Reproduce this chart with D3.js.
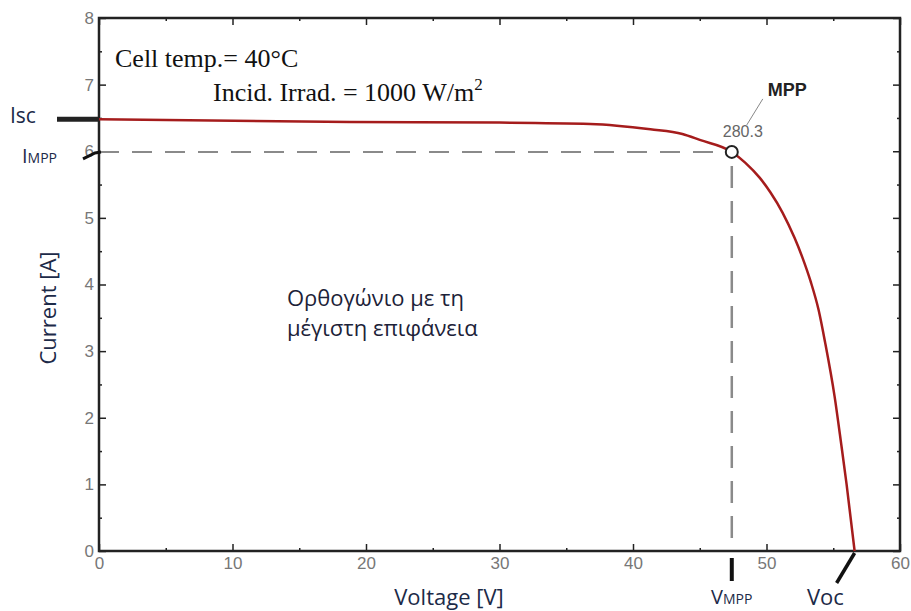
<!DOCTYPE html>
<html>
<head>
<meta charset="utf-8">
<script src="https://cdn.jsdelivr.net/npm/d3@7"></script>
<style>
  body { margin: 0; background: #fff; }
  svg { display: block; }
</style>
</head>
<body>
<svg width="911" height="611"></svg>
<script>
// I-V curve
var voltage = [0, 18.8, 30, 36.8, 41.3, 43.7, 45, 47.4, 48.4, 49.5, 50.3, 51.2, 52.1, 52.7, 53.3, 53.9, 54.4, 55.1, 55.6, 56, 56.6];
var current = [6.48, 6.44, 6.43, 6.41, 6.33, 6.26, 6.17, 5.99, 5.83, 5.60, 5.38, 5.08, 4.70, 4.40, 4.05, 3.62, 3.12, 2.32, 1.60, 1.00, 0];

var xTicks = [0, 10, 20, 30, 40, 50, 60];
var xMinor = [5, 15, 25, 35, 45, 55];
var yTicks = [0, 1, 2, 3, 4, 5, 6, 7, 8];
var yMinor = [0.5, 1.5, 2.5, 3.5, 4.5, 5.5, 6.5, 7.5];

var isc = 6.48;
var vmpp = 47.4, impp = 5.99;
var voc = 56.6;
var mppLabel = "280.3";

var svg = d3.select("svg");
var mLeft = 99, mRight = 900, mTop = 18, mBottom = 551;

var x = d3.scaleLinear().domain([0, 60]).range([mLeft, mRight]);
var y = d3.scaleLinear().domain([0, 8]).range([mBottom, mTop]);

// minor ticks on all four sides
function minorAxis(axis, pos, vals) {
  var g = svg.append("g").attr("transform", pos)
    .call(axis.tickValues(vals).tickSize(-3).tickSizeOuter(0).tickFormat(""));
  g.select(".domain").remove();
  g.selectAll("line").attr("stroke", "#222").attr("stroke-width", 1.5);
}
minorAxis(d3.axisBottom(x), "translate(0," + mBottom + ")", xMinor);
minorAxis(d3.axisTop(x), "translate(0," + mTop + ")", xMinor);
minorAxis(d3.axisLeft(y), "translate(" + mLeft + ",0)", yMinor);
minorAxis(d3.axisRight(y), "translate(" + mRight + ",0)", yMinor);

// major ticks
var gx = svg.append("g").attr("transform", "translate(0," + mBottom + ")")
  .call(d3.axisBottom(x).tickValues(xTicks).tickSize(-7).tickSizeOuter(0).tickPadding(9));
var gxt = svg.append("g").attr("transform", "translate(0," + mTop + ")")
  .call(d3.axisTop(x).tickValues(xTicks).tickSize(-7).tickSizeOuter(0).tickFormat(""));
var gy = svg.append("g").attr("transform", "translate(" + mLeft + ",0)")
  .call(d3.axisLeft(y).tickValues(yTicks).tickSize(-7).tickSizeOuter(0).tickPadding(5));
var gyr = svg.append("g").attr("transform", "translate(" + mRight + ",0)")
  .call(d3.axisRight(y).tickValues(yTicks).tickSize(-7).tickSizeOuter(0).tickFormat(""));
[gx, gxt, gy, gyr].forEach(function(g) {
  g.select(".domain").remove();
  g.selectAll(".tick line").attr("stroke", "#222").attr("stroke-width", 1.5);
  g.selectAll(".tick text")
      .attr("font-family", "Liberation Sans Narrow, Liberation Sans, Arial, sans-serif")
      .attr("font-size", 17).attr("fill", "#777");
});
gx.selectAll(".tick text").attr("dy", "0.55em");

// frame
svg.append("rect")
    .attr("x", mLeft).attr("y", mTop)
    .attr("width", mRight - mLeft).attr("height", mBottom - mTop)
    .attr("fill", "none").attr("stroke", "#222").attr("stroke-width", 2.5);

// dashed MPP guides
svg.append("line")
    .attr("x1", x(0)).attr("x2", x(vmpp) - 6)
    .attr("y1", y(impp)).attr("y2", y(impp))
    .attr("stroke", "#8a8a8a").attr("stroke-width", 2).attr("stroke-dasharray", "20,13");
svg.append("line")
    .attr("x1", x(vmpp)).attr("x2", x(vmpp))
    .attr("y1", y(impp) + 14).attr("y2", y(0))
    .attr("stroke", "#8a8a8a").attr("stroke-width", 2.5).attr("stroke-dasharray", "22,13");

// I-V curve
var pts = voltage.map(function(v, i) { return [v, current[i]]; });
var line = d3.line()
    .x(function(d) { return x(d[0]); })
    .y(function(d) { return y(d[1]); })
    .curve(d3.curveMonotoneX);
svg.append("path")
    .datum(pts)
    .attr("d", line)
    .attr("fill", "none")
    .attr("stroke", "#a51c1c")
    .attr("stroke-width", 2.5);

// MPP marker
svg.append("circle")
    .attr("cx", x(vmpp)).attr("cy", y(impp)).attr("r", 6)
    .attr("fill", "#fff").attr("stroke", "#222").attr("stroke-width", 2);
svg.append("line")
    .attr("x1", x(vmpp) + 15).attr("y1", y(impp) - 27)
    .attr("x2", x(vmpp) + 31).attr("y2", y(impp) - 53)
    .attr("stroke", "#888").attr("stroke-width", 1);
svg.append("text")
    .attr("x", x(vmpp) - 9).attr("y", y(impp) - 15)
    .attr("font-family", "Liberation Sans, Arial, sans-serif")
    .attr("font-size", 16).attr("fill", "#666")
    .text(mppLabel);
svg.append("text")
    .attr("x", x(vmpp) + 36).attr("y", y(impp) - 56)
    .attr("font-family", "Liberation Sans, Arial, sans-serif")
    .attr("font-size", 18).attr("font-weight", "bold").attr("fill", "#222")
    .text("MPP");

// conditions
var serif = "Liberation Serif, Times New Roman, serif";
svg.append("text")
    .attr("x", 115).attr("y", 67)
    .attr("font-family", serif).attr("font-size", 26).attr("fill", "#111")
    .text("Cell temp.= 40°C");
var irr = svg.append("text")
    .attr("x", 213).attr("y", 101)
    .attr("font-family", serif).attr("font-size", 26).attr("fill", "#111")
    .text("Incid. Irrad. = 1000 W/m");
irr.append("tspan").attr("dy", -11).attr("font-size", 17).text("2");

// rectangle note
var sans = "Open Sans, Noto Sans, sans-serif";
svg.append("text")
    .attr("x", 287).attr("y", 306)
    .attr("font-family", sans).attr("font-size", 22).attr("fill", "#1c2238")
    .text("Ορθογώνιο με τη");
svg.append("text")
    .attr("x", 287).attr("y", 336)
    .attr("font-family", sans).attr("font-size", 22).attr("fill", "#1c2238")
    .text("μέγιστη επιφάνεια");

// axis titles
svg.append("text")
    .attr("x", 449).attr("y", 605)
    .attr("text-anchor", "middle")
    .attr("font-family", sans).attr("font-size", 22).attr("fill", "#1c2a48")
    .text("Voltage [V]");
svg.append("text")
    .attr("transform", "translate(56," + 308 + ") rotate(-90)")
    .attr("text-anchor", "middle")
    .attr("font-family", sans).attr("font-size", 22).attr("fill", "#1c2a48")
    .text("Current [A]");

// Isc, IMPP, VMPP, Voc markers
svg.append("line")
    .attr("x1", 57).attr("x2", mLeft).attr("y1", y(isc)).attr("y2", y(isc))
    .attr("stroke", "#222").attr("stroke-width", 5);
svg.append("text")
    .attr("x", 10).attr("y", y(isc) + 4)
    .attr("font-family", sans).attr("font-size", 21).attr("fill", "#1c2a48")
    .text("Isc");

svg.append("path")
    .attr("d", "M" + (mLeft - 16) + "," + (y(impp) + 7) + " L" + (mLeft - 4) + "," + (y(impp) + 1) + " L" + (mLeft + 2) + "," + y(impp))
    .attr("fill", "none").attr("stroke", "#111").attr("stroke-width", 3);
var imppT = svg.append("text")
    .attr("x", 22).attr("y", y(impp) + 11)
    .attr("font-family", sans).attr("font-size", 20).attr("fill", "#1c2a48");
imppT.append("tspan").text("I");
imppT.append("tspan").attr("font-size", 14).text("MPP");

svg.append("line")
    .attr("x1", x(vmpp)).attr("x2", x(vmpp)).attr("y1", mBottom + 7).attr("y2", mBottom + 30)
    .attr("stroke", "#111").attr("stroke-width", 4);
var vmppT = svg.append("text")
    .attr("x", 711).attr("y", 604)
    .attr("font-family", sans).attr("font-size", 20).attr("fill", "#1c2a48");
vmppT.append("tspan").text("V");
vmppT.append("tspan").attr("font-size", 14).text("MPP");

svg.append("line")
    .attr("x1", x(voc)).attr("y1", mBottom + 2)
    .attr("x2", x(voc) - 18).attr("y2", mBottom + 32)
    .attr("stroke", "#111").attr("stroke-width", 3.5);
svg.append("text")
    .attr("x", 807).attr("y", 605)
    .attr("font-family", sans).attr("font-size", 22).attr("fill", "#1c2a48")
    .text("Voc");
</script>
</body>
</html>
